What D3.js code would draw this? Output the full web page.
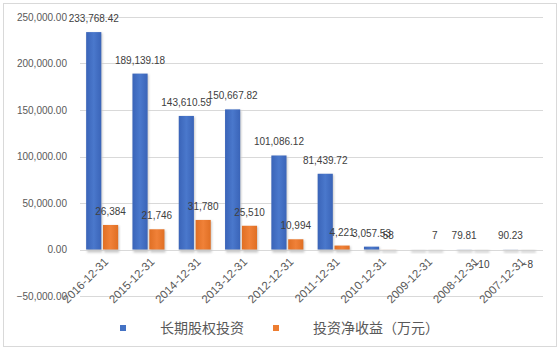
<!DOCTYPE html>
<html>
<head>
<meta charset="utf-8">
<script src="https://cdn.jsdelivr.net/npm/d3@7"></script>
<style>
  body { margin: 0; background: #fff; }
  svg text { font-family: "Liberation Sans", Arial, sans-serif; }
</style>
</head>
<body>
<div id="chart"></div>
<script>
var categories = ["2016-12-31", "2015-12-31", "2014-12-31", "2013-12-31", "2012-12-31",
    "2011-12-31", "2010-12-31", "2009-12-31", "2008-12-31", "2007-12-31"];
var equityInvest = [233768.42, 189139.18, 143610.59, 150667.82, 101086.12, 81439.72, 3057.53, null, 79.81, 90.23];
var investIncome = [26384, 21746, 31780, 25510, 10994, 4221, 58, 7, -10, -8];
var yTicks = [-50000, 0, 50000, 100000, 150000, 200000, 250000];
var seriesNames = ["长期股权投资", "投资净收益（万元）"];

var W = 560, H = 354;
var margin = { top: 17, right: 17, bottom: 58, left: 80 },
    width = W - margin.left - margin.right,
    height = 296 - margin.top;

var svg = d3.select("#chart")
    .append("svg")
    .attr("width", W)
    .attr("height", H);

svg.append("rect")
    .attr("x", 3.5).attr("y", 3.5)
    .attr("width", 553).attr("height", 343)
    .attr("fill", "#fff")
    .attr("stroke", "#d9d9d9");

var defs = svg.append("defs");
function grad(id, c1, c2) {
    var g = defs.append("linearGradient").attr("id", id)
        .attr("x1", "0%").attr("x2", "100%").attr("y1", "0%").attr("y2", "0%");
    g.append("stop").attr("offset", "0%").attr("stop-color", c2);
    g.append("stop").attr("offset", "50%").attr("stop-color", c1);
    g.append("stop").attr("offset", "100%").attr("stop-color", c2);
}
grad("gBlue", "#4a78cc", "#3a64b8");
grad("gOrange", "#f08138", "#e06f24");
defs.append("filter").attr("id", "blur")
    .attr("x", "-50%").attr("y", "-50%").attr("width", "200%").attr("height", "200%")
    .append("feGaussianBlur").attr("stdDeviation", 1.2);

var g = svg.append("g")
    .attr("transform", "translate(" + margin.left + "," + margin.top + ")");

var y = d3.scaleLinear()
    .domain([-50000, 250000])
    .range([height, 0]);

var x = d3.scaleBand()
    .domain(categories)
    .range([0, width])
    .paddingInner(0)
    .paddingOuter(0);

var sub = d3.scaleBand()
    .domain([0, 1])
    .range([0, 32])
    .paddingInner(0.1);

// grid
g.selectAll(".grid")
    .data(yTicks)
    .enter()
    .append("line")
    .attr("x1", 0).attr("x2", width)
    .attr("y1", function (d) { return Math.round(y(d)) + 0.5; })
    .attr("y2", function (d) { return Math.round(y(d)) + 0.5; })
    .attr("stroke", "#d9d9d9");

// y axis labels
var yAxis = g.append("g")
    .call(d3.axisLeft(y).tickValues(yTicks).tickSize(0).tickPadding(13)
        .tickFormat(d3.format(",.2f")));
yAxis.select(".domain").remove();
yAxis.selectAll("text")
    .attr("fill", "#595959")
    .style("font-size", "10px");

var series = [equityInvest, investIncome];
var fills = ["url(#gBlue)", "url(#gOrange)"];
var formats = [d3.format(",.2f"), d3.format(",d")];

series.forEach(function (vals, si) {
    var data = categories.map(function (c, i) { return { cat: c, v: vals[i] }; });
    var bx = function (d) { return x(d.cat) + x.bandwidth() / 2 - 17 + sub(si); };

    // soft shadow
    g.selectAll(".sh" + si)
        .data(data)
        .enter()
        .append("rect")
        .attr("x", function (d) { return bx(d) + 1; })
        .attr("y", function (d) { return Math.min(y(d.v || 0), y(0)) + 1; })
        .attr("width", sub.bandwidth())
        .attr("height", function (d) { return Math.abs(y(d.v || 0) - y(0)) + 2; })
        .attr("fill", "#c8c8c8")
        .attr("filter", "url(#blur)");

    g.selectAll(".bar" + si)
        .data(data.filter(function (d) { return d.v != null; }))
        .enter()
        .append("rect")
        .attr("x", bx)
        .attr("y", function (d) { return Math.min(y(d.v), y(0)); })
        .attr("width", sub.bandwidth())
        .attr("height", function (d) { return Math.abs(y(d.v) - y(0)); })
        .attr("fill", fills[si]);

    g.selectAll(".lbl" + si)
        .data(data.filter(function (d) { return d.v != null; }))
        .enter()
        .append("text")
        .attr("x", function (d) { return bx(d) + sub.bandwidth() / 2; })
        .attr("y", function (d) { return d.v >= 0 ? y(d.v) - 10 : y(d.v) + 18; })
        .attr("text-anchor", "middle")
        .attr("fill", "#404040")
        .style("font-size", "10px")
        .text(function (d) { return formats[si](d.v); });
});

// x labels
g.selectAll(".xl")
    .data(categories)
    .enter()
    .append("text")
    .attr("transform", function (d) {
        return "translate(" + (x(d) + x.bandwidth() / 2 + 3) + "," + (y(0) + 10) + ")rotate(-45)";
    })
    .attr("text-anchor", "end")
    .attr("dy", "0.35em")
    .attr("fill", "#595959")
    .style("font-size", "11.5px")
    .text(function (d) { return d; });

// legend
var legend = svg.append("g");
var lx = [120, 273];
seriesNames.forEach(function (name, i) {
    legend.append("rect")
        .attr("x", lx[i]).attr("y", 325)
        .attr("width", 6).attr("height", 6)
        .attr("fill", i === 0 ? "#4472c4" : "#ed7d31");
    legend.append("text")
        .attr("x", lx[i] + 40).attr("y", 333)
        .attr("fill", "#595959")
        .style("font-family", "'Noto Sans CJK SC', sans-serif")
        .style("font-size", "14px")
        .text(name);
});
</script>
</body>
</html>
